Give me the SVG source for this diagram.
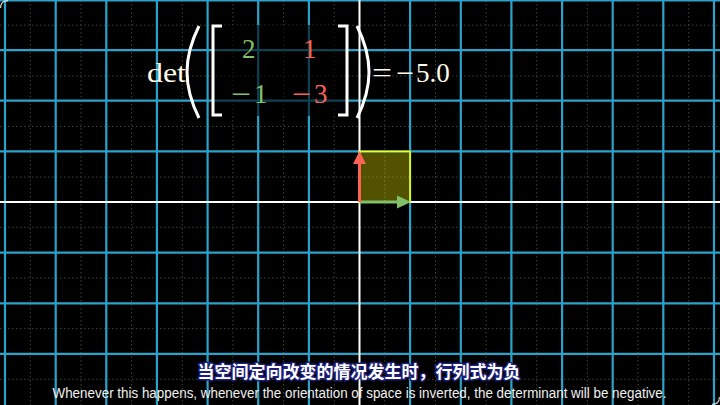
<svg xmlns="http://www.w3.org/2000/svg" width="720" height="405" viewBox="0 0 720 405">
<style>
.major{stroke:#2AA2CA;stroke-width:2.2;fill:none}
.minor{stroke:#3c4430;stroke-width:1;stroke-dasharray:1.5 2.5;fill:none}
.axis{stroke:#ffffff;stroke-width:2;fill:none}
.math{font-family:"Liberation Serif","DejaVu Serif",serif;font-size:27px}
.w{fill:#fdfbe9}
.g{fill:#83C167}
.r{fill:#FC6255}
.delim{stroke:#ffffff;fill:none;stroke-width:3}
.zh{font-family:"Noto Sans CJK SC",sans-serif;font-size:17px;font-weight:bold;fill:#ffffff;stroke:#1c1e78;stroke-width:3;paint-order:stroke;stroke-linejoin:round}
.en{font-family:"Liberation Sans",Arial,sans-serif;font-size:14px;fill:#f0f0f0}
</style>
<rect width="720" height="405" fill="#000000"/>
<g id="minor-grid">
<path class="minor" d="M30.3 0V405M81 0V405M131.6 0V405M182.3 0V405M232.9 0V405M283.6 0V405M334.2 0V405M384.8 0V405M435.5 0V405M486.1 0V405M536.8 0V405M587.4 0V405M638 0V405M688.7 0V405"/>
<path class="minor" d="M0 25.2H720M0 75.9H720M0 126.5H720M0 177.1H720M0 227.3H720M0 278H720M0 328.6H720M0 379.3H720"/>
</g>
<g id="major-grid">
<path class="major" d="M5 0V405M55.7 0V405M106.3 0V405M156.9 0V405M207.6 0V405M258.2 0V405M308.9 0V405M410.1 0V405M460.8 0V405M511.4 0V405M562.1 0V405M612.7 0V405M663.3 0V405M714 0V405"/>
<path class="major" d="M0 0.5H720M0 50.1H720M0 100.7H720M0 151.4H720M0 252.6H720M0 303.3H720M0 353.9H720"/>
</g>
<g id="axes">
<path class="axis" d="M359.5 0V405M0 202H720"/>
</g>
<g id="unit-square">
<rect x="359.5" y="151.4" width="50.6" height="50.6" fill="#FFFF00" fill-opacity="0.32" stroke="#FFFF00" stroke-width="1.5"/>
</g>
<g id="vectors">
<g id="i-hat">
<line x1="359.5" y1="202" x2="399" y2="202" stroke="#83C167" stroke-width="3"/>
<polygon points="397,195.5 411,202 397,208.5" fill="#83C167"/>
</g>
<g id="j-hat">
<line x1="359.5" y1="202" x2="359.5" y2="163" stroke="#FC6255" stroke-width="3"/>
<polygon points="353,164 359.5,151 366,164" fill="#FC6255"/>
</g>
</g>
<g id="formula">
<rect x="212" y="25" width="136" height="91" fill="#000000" fill-opacity="0.6"/>
<text class="math w" x="147" y="82" textLength="39" lengthAdjust="spacingAndGlyphs">det</text>
<path class="delim" d="M199 26Q187 50 187 72Q187 94 199 118"/>
<path class="delim" d="M357 26Q369 50 369 72Q369 94 357 118"/>
<path class="delim" d="M222 26H213V115H222"/>
<path class="delim" d="M338 26H347V115H338"/>
<text class="math g" x="242" y="58">2</text>
<text class="math r" x="303" y="58">1</text>
<text class="math g" x="231" y="103" textLength="20" lengthAdjust="spacingAndGlyphs">−</text>
<text class="math g" x="254" y="103">1</text>
<text class="math r" x="292" y="103" textLength="19" lengthAdjust="spacingAndGlyphs">−</text>
<text class="math r" x="314" y="103">3</text>
<text class="math w" x="372" y="82" textLength="20" lengthAdjust="spacingAndGlyphs">=</text>
<text class="math w" x="396" y="82" textLength="18" lengthAdjust="spacingAndGlyphs">−</text>
<text class="math w" x="416" y="82">5.0</text>
</g>
<g id="subtitles">
<text class="zh" x="359" y="378" text-anchor="middle">当空间定向改变的情况发生时，行列式为负</text>
<text class="en" x="359.5" y="398" text-anchor="middle" textLength="614" lengthAdjust="spacingAndGlyphs">Whenever this happens, whenever the orientation of space is inverted, the determinant will be negative.</text>
</g>
<g id="frame-corners" fill="none" stroke="#ffffff" stroke-width="1.2" stroke-opacity="0.8">
<path d="M0.6 8Q0.6 0.6 8 0.6"/>
<path d="M719.4 397Q719.4 404.4 712 404.4"/>
</g>
</svg>
